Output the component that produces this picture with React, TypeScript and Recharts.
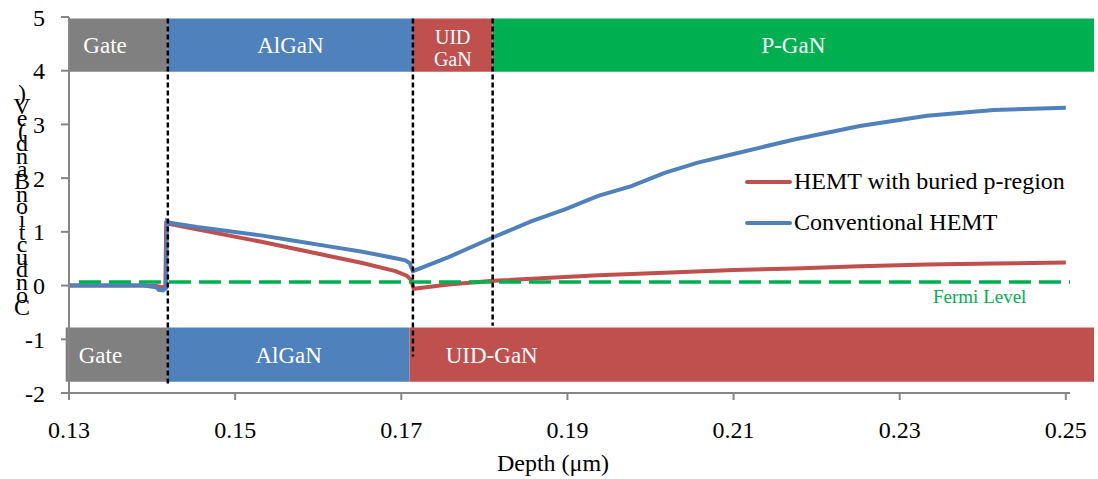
import React from "react";
import { LineChart, Line, XAxis, YAxis, ReferenceArea, ReferenceLine, Legend } from "recharts";

const serif = "Liberation Serif, Times New Roman, serif";
const fontStyle = { fontFamily: serif };

// depth in µm, band energy in eV
const conventionalDepth = [
  0.13, 0.135, 0.139, 0.1405, 0.1408, 0.1413, 0.1417, 0.1418, 0.1421, 0.1454, 0.1493, 0.1533, 0.1573,
  0.1613, 0.1653, 0.1693, 0.1705, 0.171, 0.1714, 0.1757, 0.1811, 0.1857, 0.1897, 0.1937, 0.1977, 0.2017,
  0.2057, 0.21, 0.2173, 0.2252, 0.2333, 0.2413, 0.25,
];
const conventionalBand = [
  0, 0, 0, -0.03, -0.08, -0.09, -0.04, 1.2, 1.17, 1.09, 1.01, 0.93, 0.83, 0.73, 0.63, 0.51, 0.47, 0.42,
  0.27, 0.53, 0.9, 1.2, 1.42, 1.67, 1.85, 2.1, 2.29, 2.45, 2.72, 2.97, 3.16, 3.27, 3.31,
];

const buriedDepth = [
  0.13, 0.139, 0.1405, 0.1412, 0.1416, 0.1417, 0.1454, 0.1493, 0.1533, 0.1573, 0.1613, 0.1653, 0.1693,
  0.1707, 0.1712, 0.1715, 0.1757, 0.1811, 0.1937, 0.2017, 0.21, 0.2173, 0.2252, 0.2333, 0.2413, 0.25,
];
const buriedBand = [
  0, 0, -0.01, -0.03, -0.02, 1.16, 1.05, 0.93, 0.81, 0.68, 0.55, 0.42, 0.27, 0.18, 0.1, -0.06, 0.02,
  0.09, 0.19, 0.24, 0.29, 0.32, 0.36, 0.39, 0.41, 0.43,
];

const fermiDepth = [0.1312, 0.2505];
const fermiLevel = [0.065, 0.065];

const xTicks = [0.13, 0.15, 0.17, 0.19, 0.21, 0.23, 0.25];
const yTicks = [-2, -1, 0, 1, 2, 3, 4, 5];

// layer regions along depth
const topLayers = [
  { name: ["Gate"], x1: 0.1299, x2: 0.1419, color: "#808080", pos: 0.37 },
  { name: ["AlGaN"], x1: 0.1419, x2: 0.1714, color: "#4f81bd", pos: 0.5 },
  { name: ["UID", "GaN"], x1: 0.1714, x2: 0.181, color: "#c0504d", pos: 0.5 },
  { name: ["P-GaN"], x1: 0.181, x2: 0.2534, color: "#00b050", pos: 0.5 },
];
const bottomLayers = [
  { name: ["Gate"], x1: 0.1296, x2: 0.1419, color: "#808080", pos: 0.34 },
  { name: ["AlGaN"], x1: 0.1419, x2: 0.171, color: "#4f81bd", pos: 0.5 },
  { name: ["UID-GaN"], x1: 0.171, x2: 0.2534, color: "#c0504d", pos: 0.12 },
];
const boundaryDepth = [0.1419, 0.1714, 0.181];
const boundaryBottom = [-1.87, -1.32, -0.75];

const zip = (xs: number[], ys: number[]) => xs.map((x, i) => ({ depth: x, band: ys[i] }));
const conventional = zip(conventionalDepth, conventionalBand);
const buried = zip(buriedDepth, buriedBand);
const fermi = zip(fermiDepth, fermiLevel);

const BlockLabel = (props: any) => {
  const { viewBox, lines, pos } = props;
  if (!viewBox) return null;
  const cx = viewBox.x + viewBox.width * pos;
  const cy = viewBox.y + viewBox.height / 2;
  if (lines.length === 2) {
    return (
      <text fill="#fff" style={fontStyle} fontSize={20} textAnchor="middle">
        <tspan x={cx} y={cy - 1}>{lines[0]}</tspan>
        <tspan x={cx} y={cy + 21}>{lines[1]}</tspan>
      </text>
    );
  }
  return (
    <text x={cx} y={cy + 8} fill="#fff" style={fontStyle} fontSize={23} textAnchor="middle">
      {lines[0]}
    </text>
  );
};

const legendItems = [
  { label: "HEMT with buried p-region", color: "#c0504d" },
  { label: "Conventional HEMT", color: "#4f81bd" },
];

const LegendBox = () => (
  <div style={{ fontFamily: serif, fontSize: 24, color: "#000" }}>
    {legendItems.map((it) => (
      <div key={it.label} style={{ display: "flex", alignItems: "center", height: 41 }}>
        <span style={{ width: 47, height: 4, background: it.color, borderRadius: 2, marginRight: 2 }} />
        <span style={{ whiteSpace: "nowrap" }}>{it.label}</span>
      </div>
    ))}
  </div>
);

const yTitle = "Conduction Band (eV)".replace(/ /g, "").split("").reverse();

const tickStyle = { fill: "#000", fontSize: 24, style: fontStyle };

export default function App() {
  return (
    <div style={{ position: "absolute", left: 0, top: 0, background: "#fff", fontFamily: serif }}>
      <LineChart
        width={1098}
        height={479}
        margin={{ top: 17, right: 28, bottom: 0, left: 0 }}
        style={fontStyle}
      >
        <XAxis
          type="number"
          dataKey="depth"
          domain={[0.13, 0.25]}
          ticks={xTicks}
          tickFormatter={(v: number) => v.toFixed(2)}
          height={86}
          tickSize={7}
          tickMargin={21}
          axisLine={{ stroke: "#868686", strokeWidth: 2 }}
          tickLine={{ stroke: "#868686", strokeWidth: 2 }}
          tick={tickStyle}
        />
        <YAxis
          type="number"
          domain={[-2, 5]}
          ticks={yTicks}
          width={69}
          tickSize={8}
          tickMargin={16}
          axisLine={{ stroke: "#868686", strokeWidth: 2 }}
          tickLine={{ stroke: "#868686", strokeWidth: 2 }}
          tick={tickStyle}
        />
        {topLayers.map((l) => (
          <ReferenceArea
            key={"t" + l.name.join("")}
            x1={l.x1}
            x2={l.x2}
            y1={3.98}
            y2={4.97}
            fill={l.color}
            fillOpacity={1}
            stroke="none"
            ifOverflow="visible"
            label={<BlockLabel lines={l.name} pos={l.pos} />}
          />
        ))}
        {bottomLayers.map((l) => (
          <ReferenceArea
            key={"b" + l.name.join("")}
            x1={l.x1}
            x2={l.x2}
            y1={-1.79}
            y2={-0.78}
            fill={l.color}
            fillOpacity={1}
            stroke="none"
            ifOverflow="visible"
            label={<BlockLabel lines={l.name} pos={l.pos} />}
          />
        ))}
        <Line
          data={buried}
          dataKey="band"
          type="linear"
          stroke="#c0504d"
          strokeWidth={4}
          dot={false}
          isAnimationActive={false}
          name="HEMT with buried p-region"
        />
        <Line
          data={conventional}
          dataKey="band"
          type="linear"
          stroke="#4f81bd"
          strokeWidth={4}
          dot={false}
          isAnimationActive={false}
          name="Conventional HEMT"
        />
        <Line
          data={fermi}
          dataKey="band"
          type="linear"
          stroke="#00b050"
          strokeWidth={3.5}
          strokeDasharray="22 8"
          dot={false}
          isAnimationActive={false}
          legendType="none"
        />
        {boundaryDepth.map((d, i) => (
          <ReferenceLine
            key={"v" + i}
            segment={[
              { x: d, y: 4.97 },
              { x: d, y: boundaryBottom[i] },
            ]}
            stroke="#000"
            strokeWidth={2.5}
            strokeDasharray="5 3"
            ifOverflow="visible"
          />
        ))}
        <Legend
          layout="vertical"
          align="center"
          verticalAlign="middle"
          content={<LegendBox />}
          wrapperStyle={{ left: 745, top: 161, width: 340 }}
        />
        <g style={fontStyle}>
          <text x={933} y={303} fill="#00b050" style={fontStyle} fontSize={19}>
            Fermi Level
          </text>
          <text x={553} y={471} fill="#000" style={fontStyle} fontSize={24} textAnchor="middle">
            Depth (μm)
          </text>
          <text fill="#000" style={fontStyle} fontSize={24} textAnchor="middle">
            {yTitle.map((c, i) => (
              <tspan key={i} x={22} y={101 + i * 12.6}>
                {c}
              </tspan>
            ))}
          </text>
        </g>
      </LineChart>
    </div>
  );
}
